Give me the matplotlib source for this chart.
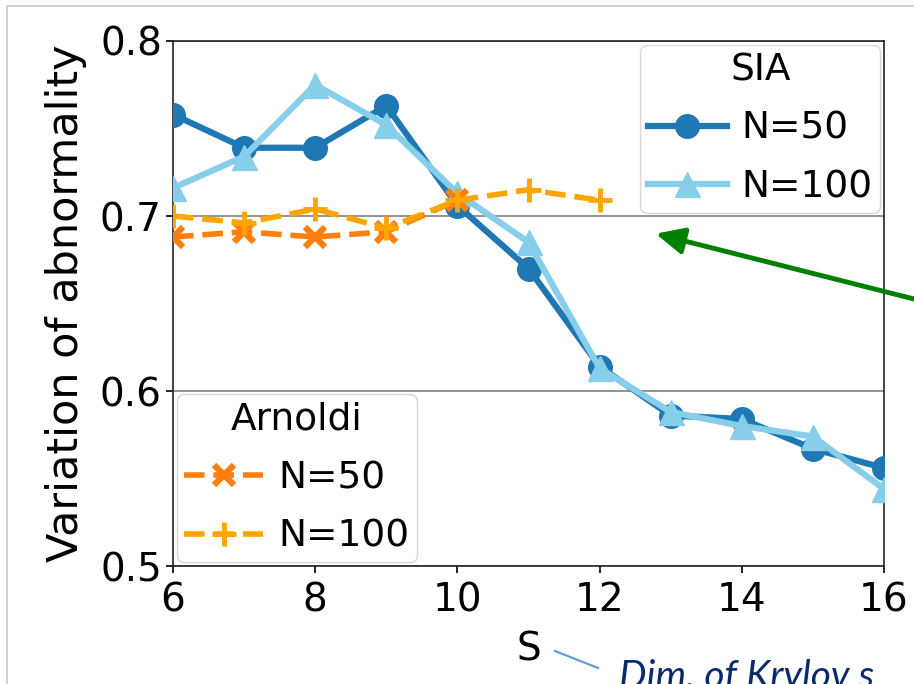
import matplotlib
matplotlib.use("Agg")
import matplotlib.pyplot as plt
from matplotlib.lines import Line2D
from matplotlib.patches import FancyArrowPatch, Rectangle

S = [6, 7, 8, 9, 10, 11, 12, 13, 14, 15, 16]
sia_n50 = [0.758, 0.739, 0.739, 0.763, 0.706, 0.670, 0.614, 0.586, 0.584, 0.567, 0.556]
sia_n100 = [0.716, 0.734, 0.775, 0.752, 0.713, 0.685, 0.613, 0.588, 0.580, 0.574, 0.544]
S_arn50 = [6, 7, 8, 9, 10]
arn_n50 = [0.688, 0.691, 0.688, 0.691, 0.709]
S_arn100 = [6, 7, 8, 9, 10, 11, 12]
arn_n100 = [0.700, 0.696, 0.704, 0.693, 0.709, 0.715, 0.709]

xticks = [6, 8, 10, 12, 14, 16]
yticks = [0.5, 0.6, 0.7, 0.8]

W, H = 914, 684
fig = plt.figure(figsize=(W / 100, H / 100), dpi=100)

def fx(px):
    return px / W

def fy(py):
    return 1 - py / H

# slide frame
fig.patches.append(Rectangle((fx(7), fy(H + 10)), 1.2, fy(6) - fy(H + 10),
                             transform=fig.transFigure, fill=False,
                             edgecolor="#c8c8c8", linewidth=1.2))

ax = fig.add_axes([fx(173), fy(566), fx(884) - fx(173), fy(41) - fy(566)])

c50, c100 = "#1f77b4", "#87ceeb"
a50, a100 = "#ff7f0e", "#ffa500"

l1, = ax.plot(S, sia_n50, color=c50, marker="o", ms=17, lw=4.5, label="N=50", zorder=3)
l2, = ax.plot(S, sia_n100, color=c100, marker="^", ms=18, lw=4.5, label="N=100", zorder=3)
l3, = ax.plot(S_arn50, arn_n50, color=a50, marker="x", ms=15, mew=4.5, lw=4,
              ls="--", label="N=50", zorder=4)
l4, = ax.plot(S_arn100, arn_n100, color=a100, marker="+", ms=17, mew=3.5, lw=4,
              ls="--", label="N=100", zorder=4)

ax.set_xlim(6, 16)
ax.set_ylim(0.5, 0.8)
ax.set_xticks(xticks)
ax.set_yticks(yticks)
ax.set_yticklabels([f"{v:.1f}" for v in yticks])
ax.tick_params(labelsize=28, length=5, width=1.2)
ax.tick_params(axis="x", pad=6)
ax.tick_params(axis="y", pad=3)
ax.yaxis.grid(True, color="0.5", lw=1.2)
ax.set_axisbelow(True)
for sp in ax.spines.values():
    sp.set_linewidth(1.2)
    sp.set_color("#222222")

ax.set_xlabel("S", fontsize=28, labelpad=8)
ax.set_ylabel("Variation of abnormality", fontsize=31, labelpad=9)

leg1 = ax.legend(handles=[l1, l2], title="SIA", loc="upper right", fontsize=27,
                 title_fontsize=27, borderaxespad=0.1, handlelength=2.1,
                 handletextpad=0.4, borderpad=0.2, labelspacing=0.6)
ax.add_artist(leg1)
leg2 = ax.legend(handles=[l3, l4], title="Arnoldi", loc="lower left", fontsize=27,
                 title_fontsize=27, borderaxespad=0.1, handlelength=2.1,
                 handletextpad=0.4, borderpad=0.2, labelspacing=0.6)

# green arrow
arr = FancyArrowPatch((fx(918), fy(300)), (fx(653), fy(233)),
                      transform=fig.transFigure,
                      arrowstyle="-|>,head_length=17,head_width=8",
                      color="#008000", lw=3.5, mutation_scale=1)
fig.patches.append(arr)

# connector line and annotation text
fig.lines.append(Line2D([fx(555), fx(598)], [fy(651), fy(668)],
                        transform=fig.transFigure, color="#5b9bd5", lw=1.5))
fig.text(fx(619), fy(688), "Dim. of Krylov s", fontsize=28, style="italic",
         family="Lato", color="#0b2a6b", ha="left", va="baseline")

fig.savefig("out.png", dpi=100)
